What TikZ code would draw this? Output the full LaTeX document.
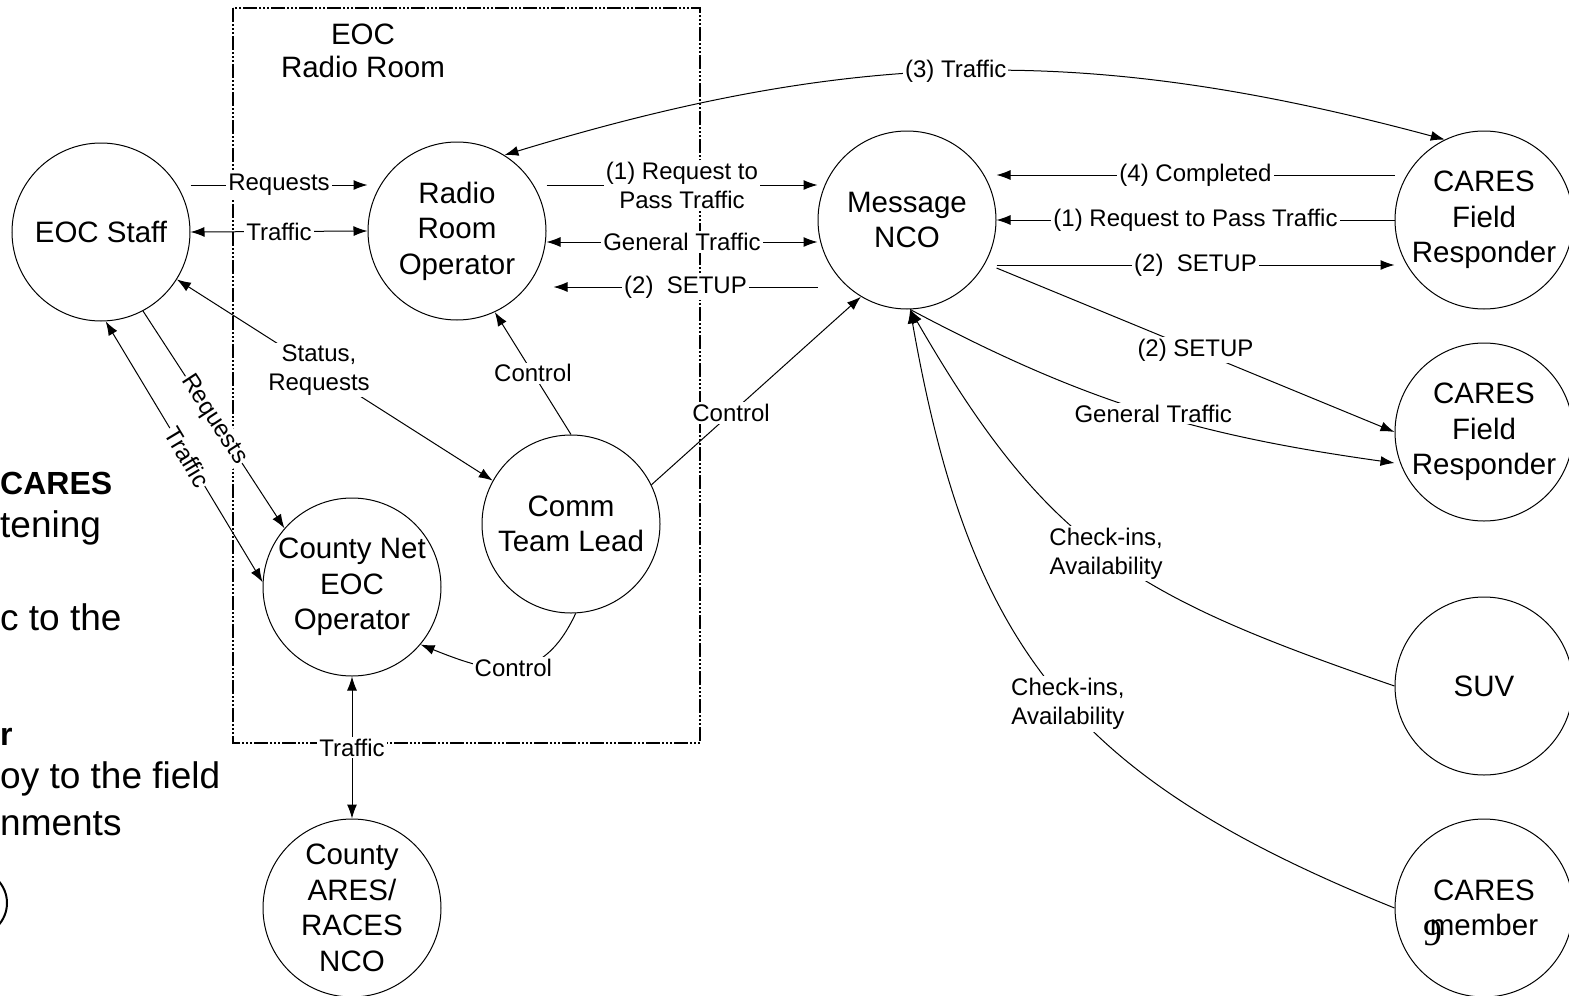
\documentclass[tikz,border=0pt]{standalone}
\usepackage{fontspec}
\setmainfont{Liberation Sans}
\newfontfamily\pagefont{Liberation Serif}
\usetikzlibrary{arrows.meta}

\tikzset{
  role/.style={draw,circle,minimum size=178pt,inner sep=0pt,align=center,
    line width=1pt,font=\fontsize{29.5}{35.5}\selectfont},
  lbl/.style={fill=white,inner sep=2pt,align=center,font=\fontsize{24}{29}\selectfont},
  flow/.style={line width=1pt,-{Latex[length=14pt,width=10pt]}},
  flowboth/.style={line width=1pt,{Latex[length=14pt,width=10pt]}-{Latex[length=14pt,width=10pt]}},
  roomline/.style={line width=1.2pt,dash pattern=on 14pt off 2pt on 2pt off 2pt on 2pt off 2pt on 2pt off 2pt},
  side/.style={anchor=west,inner sep=0pt,font=\fontsize{37}{44}\selectfont}
}

\begin{document}
\begin{tikzpicture}[x=1pt,y=1pt]
  \useasboundingbox (0,0) rectangle (1569,-996);

  % cut-off slide text on the left
  \node[side,font=\fontsize{32}{38}\selectfont\bfseries] (t1) at (0,-483) {CARES};
  \node[side] (t2) at (0,-528) {tening};
  \node[side] (t3) at (0,-617) {c to the};
  \node[side,font=\fontsize{32}{38}\selectfont\bfseries] (t4) at (0,-737) {r};
  \node[side] (t5) at (0,-779) {oy to the field};
  \node[side] (t6) at (0,-824) {nments};
  \draw[line width=2pt] (-26,-903) circle [radius=33];

  % EOC radio room
  \draw[roomline] (233,-8) rectangle (700,-743);
  \node[font=\fontsize{29.5}{33.5}\selectfont,align=center] (room) at (363,-51) {EOC\\Radio Room};

  \node[role] (eoc) at (101,-232) {EOC Staff};
  \node[role] (rro) at (457,-231) {Radio\\Room\\Operator};
  \node[role] (mnco) at (907,-220) {Message\\NCO};
  \node[role] (ctl) at (571,-524) {Comm\\Team Lead};
  \node[role] (cneo) at (352,-587) {County Net\\EOC\\Operator};
  \node[role] (cnco) at (352,-908) {County\\ARES/\\RACES\\NCO};
  \node[role] (cfr1) at (1484,-220) {CARES\\Field\\Responder};
  \node[role] (cfr2) at (1484,-432) {CARES\\Field\\Responder};
  \node[role] (suv) at (1484,-686) {SUV};
  \node[role] (cmem) at (1484,-908) {CARES\\member};

  % EOC staff
  \draw[flow] ([yshift=47pt]eoc.east) -- node[lbl] {Requests} ([yshift=46pt]rro.west);
  \draw[flowboth] (eoc.east) -- node[lbl] {Traffic} (rro.west);
  \draw[flowboth] (eoc.-32) -- node[lbl,pos=0.45] {Status,\\Requests} (ctl.151);
  \draw[flow] (eoc.-62) -- node[lbl,sloped,inner sep=1pt,pos=0.5] {Requests} (cneo.139);
  \draw[flowboth] (eoc.-87) -- node[lbl,sloped,inner sep=1pt,pos=0.52] {Traffic} (cneo.177);

  % radio room operator and message NCO
  \draw[flow] ([yshift=46pt]rro.east) -- node[lbl] {(1) Request to\\Pass Traffic} ([yshift=35pt]mnco.west);
  \draw[flowboth] ([yshift=-11pt]rro.east) -- node[lbl] {General Traffic} ([yshift=-22pt]mnco.west);
  \draw[flow] ([yshift=-67pt]mnco.west) -- node[lbl] {(2)~ SETUP} ([xshift=7pt,yshift=-56pt]rro.east);
  \draw[flowboth] (rro.58) to[bend left=16] node[lbl,pos=0.48] {(3) Traffic} (cfr1.116);

  % control
  \draw[flow] (ctl.north) -- node[lbl] {Control} (rro.295);
  \draw[flow] (ctl.26) -- node[lbl,pos=0.38] {Control} (mnco.239);
  \draw[flow] (ctl.-87) to[out=-115,in=-22,looseness=1.3] node[lbl] {Control} (cneo.-40);
  \draw[flowboth] (cneo.south) -- node[lbl] {Traffic} (cnco.north);

  % field
  \draw[flow] ([yshift=45pt]cfr1.west) -- node[lbl] {(4) Completed} ([yshift=45pt]mnco.east);
  \draw[flow] (cfr1.west) -- node[lbl] {(1) Request to Pass Traffic} (mnco.east);
  \draw[flow] ([yshift=-45pt]mnco.east) -- node[lbl] {(2)~ SETUP} ([yshift=-45pt]cfr1.west);
  \draw[flow] ([yshift=-48pt]mnco.east) -- node[lbl] {(2) SETUP} (cfr2.west);
  \draw[flow] (mnco.-88) to[out=-28,in=172] node[lbl,pos=0.52] {General Traffic} ([yshift=-31pt]cfr2.west);
  \draw[flow] (suv.west) to[out=161,in=-60,looseness=1.15] node[lbl,pos=0.5] {Check-ins,\\Availability} (mnco.-88);
  \draw[flow] (cmem.west) to[out=158,in=-80,looseness=1.15] node[lbl,pos=0.47] {Check-ins,\\Availability} (mnco.-88);

  \node[font=\pagefont\fontsize{38}{38}\selectfont] (pg) at (1433,-933) {9};
\end{tikzpicture}
\end{document}
